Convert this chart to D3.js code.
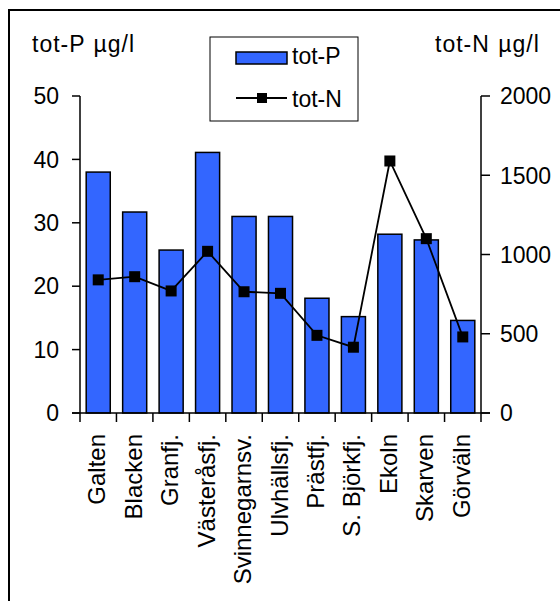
<!DOCTYPE html>
<html>
<head>
<meta charset="utf-8">
<script src="https://cdn.jsdelivr.net/npm/d3@7"></script>
<style>
  html, body { margin: 0; padding: 0; background: #fff; }
  svg { display: block; }
  text { font-family: Arial, "Liberation Sans", sans-serif; fill: #000; }
</style>
</head>
<body>
<svg id="chart" width="560" height="601"></svg>
<script>
const categories = ["Galten", "Blacken", "Granfj.", "Västeråsfj.", "Svinnegarnsv.", "Ulvhällsfj.", "Prästfj.", "S. Björkfj.", "Ekoln", "Skarven", "Görväln"];
const totP = [38.0, 31.7, 25.7, 41.1, 31.0, 31.0, 18.1, 15.2, 28.2, 27.3, 14.6];
const totN = [840, 860, 770, 1020, 765, 755, 490, 415, 1590, 1100, 480];
const leftTicks = [0, 10, 20, 30, 40, 50];
const rightTicks = [0, 500, 1000, 1500, 2000];
const leftTitle = "tot-P µg/l";
const rightTitle = "tot-N µg/l";
const seriesNames = ["tot-P", "tot-N"];

const svg = d3.select("#chart");
const FS = 23;
const plot = { left: 80, right: 481, top: 96, bottom: 413 };

// Frame
svg.append("rect")
  .attr("x", 9).attr("y", 10).attr("width", 600).attr("height", 640)
  .attr("fill", "none").attr("stroke", "#000").attr("stroke-width", 2);

const x = d3.scaleBand().domain(categories).range([plot.left, plot.right]).paddingInner(0).paddingOuter(0);
const yL = d3.scaleLinear().domain([0, 50]).range([plot.bottom, plot.top]);
const yR = d3.scaleLinear().domain([0, 2000]).range([plot.bottom, plot.top]);

// Bars
const barW = x.bandwidth() * 0.66;
svg.append("g").selectAll("rect").data(categories).join("rect")
  .attr("x", (d) => x(d) + x.bandwidth() / 2 - barW / 2)
  .attr("y", (d, i) => yL(totP[i]))
  .attr("width", barW)
  .attr("height", (d, i) => yL(0) - yL(totP[i]))
  .attr("fill", "#3366FF")
  .attr("stroke", "#000").attr("stroke-width", 1.5);

// Axes lines
const axes = svg.append("g").attr("stroke", "#000").attr("stroke-width", 1.5).attr("fill", "none");
axes.append("line").attr("x1", plot.left).attr("x2", plot.left).attr("y1", yL(50)).attr("y2", yL(0));
axes.append("line").attr("x1", plot.right).attr("x2", plot.right).attr("y1", yR(2000)).attr("y2", yR(0));
axes.append("line").attr("x1", plot.left - 8).attr("x2", plot.right + 9).attr("y1", plot.bottom).attr("y2", plot.bottom);

// Left ticks
axes.selectAll(".lt").data(leftTicks).join("line")
  .attr("x1", plot.left - 8).attr("x2", plot.left)
  .attr("y1", (d) => yL(d)).attr("y2", (d) => yL(d));
// Right ticks
axes.selectAll(".rt").data(rightTicks).join("line")
  .attr("x1", plot.right).attr("x2", plot.right + 9)
  .attr("y1", (d) => yR(d)).attr("y2", (d) => yR(d));
// X ticks at band boundaries
const bounds = categories.map((c) => x(c)).concat([x(categories[categories.length - 1]) + x.bandwidth()]);
axes.selectAll(".xt").data(bounds).join("line")
  .attr("x1", (d) => d).attr("x2", (d) => d)
  .attr("y1", plot.bottom).attr("y2", plot.bottom + 9);

// Tick labels
svg.append("g").selectAll("text").data(leftTicks).join("text")
  .attr("x", 59).attr("y", (d) => yL(d)).attr("dy", "0.36em")
  .attr("text-anchor", "end").attr("font-size", FS).text((d) => d);
svg.append("g").selectAll("text").data(rightTicks).join("text")
  .attr("x", 500).attr("y", (d) => yR(d)).attr("dy", "0.36em")
  .attr("text-anchor", "start").attr("font-size", FS).text((d) => d);

// Category labels
svg.append("g").selectAll("text").data(categories).join("text")
  .attr("transform", (d) => `translate(${x(d) + x.bandwidth() / 2 + 7},434) rotate(-90)`)
  .attr("text-anchor", "end").attr("font-size", 24).text((d) => d);

// Axis titles
svg.append("text").attr("x", 32).attr("y", 52).attr("font-size", FS)
  .attr("letter-spacing", 1).attr("word-spacing", 1).text(leftTitle);
svg.append("text").attr("x", 435).attr("y", 52).attr("font-size", FS)
  .attr("letter-spacing", 1).attr("word-spacing", 1).text(rightTitle);

// Line series
const line = d3.line().x((d, i) => x(categories[i]) + x.bandwidth() / 2).y((d) => yR(d));
svg.append("path").datum(totN).attr("d", line)
  .attr("fill", "none").attr("stroke", "#000").attr("stroke-width", 1.8);
const MS = 11;
svg.append("g").selectAll("rect").data(totN).join("rect")
  .attr("x", (d, i) => x(categories[i]) + x.bandwidth() / 2 - MS / 2)
  .attr("y", (d) => yR(d) - MS / 2)
  .attr("width", MS).attr("height", MS).attr("fill", "#000");

// Legend
const lg = svg.append("g");
lg.append("rect").attr("x", 210).attr("y", 37).attr("width", 148).attr("height", 84)
  .attr("fill", "#fff").attr("stroke", "#000").attr("stroke-width", 1);
lg.append("rect").attr("x", 236).attr("y", 52).attr("width", 51).attr("height", 12)
  .attr("fill", "#3366FF").attr("stroke", "#000").attr("stroke-width", 1.5);
lg.append("text").attr("x", 292).attr("y", 64).attr("font-size", FS).text(seriesNames[0]);
lg.append("line").attr("x1", 236).attr("x2", 287).attr("y1", 98).attr("y2", 98)
  .attr("stroke", "#000").attr("stroke-width", 1.8);
lg.append("rect").attr("x", 262 - 5).attr("y", 98 - 5).attr("width", 10).attr("height", 10).attr("fill", "#000");
lg.append("text").attr("x", 292).attr("y", 107).attr("font-size", FS).text(seriesNames[1]);
</script>
</body>
</html>
